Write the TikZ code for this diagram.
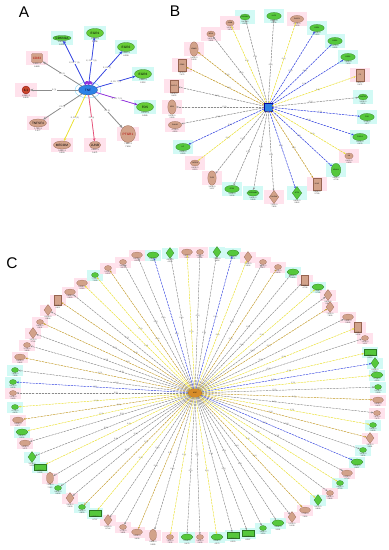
\documentclass[tikz,border=0pt]{standalone}
\usepackage{fontspec}
\setmainfont{Liberation Sans}
\usetikzlibrary{positioning,shapes.geometric,arrows.meta}

\definecolor{ngreen}{RGB}{85,200,60}
\definecolor{gdark}{RGB}{45,120,35}
\definecolor{ntan}{RGB}{210,162,138}
\definecolor{tdark}{RGB}{150,100,80}
\definecolor{nred}{RGB}{200,70,45}
\definecolor{bgcyan}{RGB}{210,250,245}
\definecolor{bgpink}{RGB}{255,226,236}
\definecolor{hblue}{RGB}{45,130,230}
\definecolor{hbrown}{RGB}{215,140,40}
\definecolor{egray}{RGB}{140,140,140}
\definecolor{eyellow}{RGB}{235,225,50}
\definecolor{eolive}{RGB}{195,155,40}
\definecolor{eblue}{RGB}{55,70,225}
\definecolor{eviolet}{RGB}{145,50,220}
\definecolor{epink}{RGB}{230,80,120}

\def\nsc{1}

\tikzset{
  nd/.style={inner sep=0pt, line width=0.2mm, font=\fontsize{5}{5}\selectfont},
  sg/.style={nd, ellipse, draw=gdark, fill=ngreen, minimum width=\nsc*12mm, minimum height=\nsc*6mm},
  sgt/.style={nd, ellipse, draw=gdark, fill=ngreen, minimum width=\nsc*8mm, minimum height=\nsc*11mm},
  gs/.style={nd, ellipse, draw=gdark, fill=ngreen, minimum width=\nsc*7mm, minimum height=\nsc*5mm},
  sgd/.style={nd, diamond, draw=gdark, fill=ngreen, minimum width=\nsc*8mm, minimum height=\nsc*11mm},
  sgr/.style={nd, rectangle, draw=gdark, fill=ngreen, minimum width=\nsc*12mm, minimum height=\nsc*6mm},
  st/.style={nd, ellipse, draw=tdark, fill=ntan, minimum width=\nsc*11mm, minimum height=\nsc*6mm},
  stt/.style={nd, ellipse, draw=tdark, fill=ntan, minimum width=\nsc*7mm, minimum height=\nsc*12mm},
  ts/.style={nd, ellipse, draw=tdark, fill=ntan, minimum width=\nsc*7mm, minimum height=\nsc*5mm},
  sd/.style={nd, diamond, draw=tdark, fill=ntan, minimum width=\nsc*8mm, minimum height=\nsc*11mm},
  sr/.style={nd, rectangle, draw=tdark, fill=ntan, minimum width=\nsc*7mm, minimum height=\nsc*10mm},
  bgc/.style={rectangle, fill=bgcyan, minimum width=\nsc*16mm, minimum height=\nsc*11mm, inner sep=0pt},
  bgp/.style={rectangle, fill=bgpink, minimum width=\nsc*16mm, minimum height=\nsc*11mm, inner sep=0pt},
  vals/.style={font=\fontsize{5.5}{5.9}\selectfont, align=center, inner sep=0.2mm, text=black!80},
  elab/.style={font=\fontsize{5}{5.4}\selectfont, text=black!70, inner sep=0.2mm},
  % dashed connectors (B, C)
  dsh/.style={line width=0.5mm, dash pattern=on 2mm off 1.2mm, -{Stealth[length=2.2mm, width=1.8mm]}},
  eg/.style={dsh, draw=egray, fill=egray},
  ey/.style={dsh, draw=eyellow, fill=eyellow},
  eo/.style={dsh, draw=eolive, fill=eolive},
  eb/.style={dsh, draw=eblue, fill=eblue},
  % solid connectors (A)
  sol/.style={line width=0.75mm, -{Stealth[length=3.2mm, width=2.6mm]}},
  aeb/.style={sol, draw=eblue, fill=eblue},
  aev/.style={sol, draw=eviolet, fill=eviolet},
  aeg/.style={sol, draw=egray, fill=egray},
  aey/.style={sol, draw=eyellow, fill=eyellow},
  aep/.style={sol, draw=epink, fill=epink},
  % panel A nodes
  an/.style={inner sep=0pt, line width=0.25mm, font=\fontsize{9}{9}\selectfont},
  agl/.style={an, ellipse, draw=gdark, fill=ngreen!90!yellow, minimum width=17mm, minimum height=9mm},
  ags/.style={an, ellipse, draw=gdark, fill=ngreen, minimum width=9mm, minimum height=5mm},
  atl/.style={an, ellipse, draw=tdark, fill=ntan, minimum width=16mm, minimum height=8mm},
  atall/.style={an, ellipse, draw=tdark, fill=ntan, minimum width=10mm, minimum height=17mm, text=red!70!black},
  atsm/.style={an, ellipse, draw=tdark, fill=ntan, minimum width=9mm, minimum height=7mm},
  ared/.style={an, circle, draw=red!50!black, fill=nred, minimum size=8mm},
  arect/.style={an, rectangle, rounded corners=1mm, draw=tdark, fill=ntan, minimum width=11mm, minimum height=9mm, text=red!70!black},
  panel/.style={font=\fontsize{44}{44}\selectfont}
}

\begin{document}
\begin{tikzpicture}[x=1mm, y=-1mm]
\useasboundingbox (0,0) rectangle (389,550);
\fill[white] (0,0) rectangle (389,550);

% Panel letters
\node[panel] (labA) at (24,12) {A};
\node[panel] (labB) at (175,11) {B};
\node[panel] (labC) at (12,263) {C};

% ---------------- A ----------------
\begin{scope}
\def\nsc{1.35}
\node[an, ellipse, draw=hblue!60!black, fill=hblue, minimum width=19mm, minimum height=10mm, text=blue!25!black] (hA) at (88,90) {TNF};
\draw[cyan!50, line width=0.35mm] (hA.center) ellipse [x radius=13mm, y radius=8mm];
\foreach \x/\y/\b/\s/\n/\e/\t [count=\i] in {
    62/38/bgc/ags/CDKN1A/aeb/{E, PR, T (3)},
    95/33/bgc/agl/EGR1/aeb/{E, PR, T (3)},
    126/47/bgc/agl/EGR2/aeb/{E, PR (2)},
    143/74/bgc/agl/EGR3/aeb/{E, PR, T (3)},
    145/107/bgc/agl/FOS/aev/{E, PR, T (3)},
    128/134/bgp/atall/PTGR1/aeg/{PR (1)},
    95/145/bgp/atsm/JUNB/aep/{PR (1)},
    62/145/bgp/atl/MECOM/aey/{E, PR (2)},
    38/123/bgp/atl/TNFSF4/aeg/{PR (1)},
    26/90/bgp/ared/IL1/aeg/{E (1)},
    37/58/bgp/arect/CD83/aeg/{PR (1)}}{
  \node[\b] at (\x,\y) {};
  \node[\s] (a\i) at (\x,\y) {\n};
  \pgfmathtruncatemacro\pa{mod(\i*7,9)+1}
  \pgfmathtruncatemacro\pb{mod(\i*37,89)+10}
  \pgfmathtruncatemacro\pc{mod(\i*53,897)+100}
  \node[vals, font=\fontsize{6}{6.5}\selectfont, below=0.4mm of a\i] {\pa.\pb E-3\\\pa.\pc};
  \draw[\e] (hA) -- (a\i) node[elab, font=\fontsize{5.5}{6}\selectfont, pos=0.5, fill=white] {\t};
}
% self loops
\draw[aev] (hA.120) to[out=110, in=70, looseness=5] (hA.95);
\draw[aev] (hA.85) to[out=110, in=70, looseness=5] (hA.60);
\end{scope}

% ---------------- B ----------------
\begin{scope}
\def\nsc{1.2}
\def\blist{245/17/gs/bgc/eg/CDKN1A, 274/16/sg/bgc/eg/KLF2, 297/19/st/bgp/ey/DUSP1,
  317/28/sg/bgc/eb/EGR1, 335/41/sg/bgc/eb/EGR2, 348/57/sg/bgc/eb/EGR3,
  360/75/sr/bgp/ey/F3, 363/97/gs/bgc/eg/SH3TC2, 367/117/sg/bgc/eb/FOS,
  360/137/sg/bgc/eb/FOSL2, 349/156/ts/bgp/ey/IL6, 336/170/sgt/bgc/eb/NR4A1,
  317/184/sr/bgp/eo/LDLR, 297/193/sgd/bgc/eb/ATF3, 274/197/sd/bgp/eg/PHLDA1,
  253/193/gs/bgc/eg/SERPINB2, 232/189/sg/bgc/eg/ETS2, 212/178/stt/bgp/eg/TLR2,
  195/163/ts/bgp/ey/TNFSF4, 183/147/sg/bgc/eb/LIF, 175/125/st/bgp/eg/PLAUR,
  172/107/stt/bgp/eg/IER3, 174/86/sr/bgp/eg/CXCL2, 182/65/sr/bgp/eo/CD83,
  194/49/stt/bgp/eo/ICAM1, 211/34/ts/bgp/eg/BCL3, 230/23/ts/bgp/ey/JUNB}
\node[nd, rectangle, draw=blue!60!black, fill=hblue, minimum size=8mm] (hB) at (268,107) {};
\foreach \x/\y/\s/\b/\e/\n in \blist {
  \node[\b] at (\x,\y) {};
}
\foreach \x/\y/\s/\b/\e/\n [count=\i] in \blist {
  \node[\s] (b\i) at (\x,\y) {\n};
  \pgfmathtruncatemacro\pa{mod(\i*7,9)+1}
  \pgfmathtruncatemacro\pb{mod(\i*37,89)+10}
  \pgfmathtruncatemacro\pc{mod(\i*53,897)+100}
  \node[vals, below=0.3mm of b\i] {\pa.\pb E-3\\\pa.\pc};
  \pgfmathsetmacro\lp{0.45+0.1*mod(\i,2)}
  \draw[\e] (hB) -- (b\i) node[elab, pos=\lp] {E (1)};
}
\end{scope}

% ---------------- C ----------------
\def\clist{137/255/st/bgp/eg, 153/255/sg/bgc/eb, 170/253/sgd/bgc/eg, 187/252/st/bgp/ey,
  200/252/ts/bgp/eg, 217/252/sgd/bgc/eg, 233/253/sg/bgc/eb, 248/257/sd/bgp/ey,
  263/262/ts/bgp/eg, 278/267/ts/bgp/eo, 293/272/sg/bgc/eg, 305/280/sr/bgp/eg,
  318/287/sg/bgc/ey, 328/295/sd/bgp/eg, 330/307/sd/bgp/eo, 348/317/st/bgp/eg,
  358/327/sr/bgp/ey, 365/338/ts/bgp/eg, 370/352/sgr/bgc/ey, 375/363/sgd/bgc/eb,
  377/375/sg/bgc/ey, 378/387/gs/bgc/eg, 378/400/st/bgp/eo, 377/413/ts/bgp/eg,
  373/425/gs/bgc/ey, 370/438/sd/bgp/eo, 363/450/gs/bgc/eg, 357/462/sg/bgc/eb,
  347/473/st/bgp/eg, 340/483/gs/bgc/ey, 330/493/ts/bgp/eg, 318/500/sgd/bgc/ey,
  305/510/st/bgp/eo, 292/517/sd/bgp/eg, 278/523/sg/bgc/eg, 263/528/gs/bgc/eg,
  248/533/sgr/bgc/eg, 233/535/sgr/bgc/eg, 217/537/sg/bgc/ey, 200/537/ts/bgp/eg,
  187/537/sg/bgc/eg, 170/537/ts/bgp/ey, 153/535/stt/bgp/eg, 137/532/st/bgp/eo,
  123/527/ts/bgp/eg, 108/520/sd/bgp/eg, 95/513/sgr/bgc/ey, 82/507/gs/bgc/eo,
  70/498/sd/bgp/eg, 58/488/gs/bgc/eg, 50/478/stt/bgp/eg, 40/467/sgr/bgc/ey,
  32/457/sgd/bgc/eg, 25/443/st/bgp/eg, 22/432/sg/bgc/ey, 18/420/st/bgp/eo,
  15/407/gs/bgc/ey, 13/393/ts/bgp/eg, 13/382/gs/bgc/eb, 15/370/gs/bgc/eg,
  20/357/st/bgp/eo, 27/345/ts/bgp/eg, 33/333/sd/bgp/eg, 40/322/ts/bgp/eo,
  48/310/sd/bgp/eg, 58/300/sr/bgp/eo, 70/292/st/bgp/eg, 82/283/st/bgp/ey,
  95/275/gs/bgc/ey, 108/268/ts/bgp/eo, 123/262/ts/bgp/eg}
\node[nd, ellipse, draw=brown!70!black, fill=hbrown, minimum width=14mm, minimum height=9mm] (hC) at (195,393) {MYC};
\foreach \x/\y/\s/\b/\e in \clist {
  \node[\b] at (\x,\y) {};
}
\draw[epink!60, line width=0.25mm, dashed] (hC.center) ellipse [x radius=11mm, y radius=8mm];
\draw[egray!70, line width=0.25mm, dashed] (hC.center) ellipse [x radius=15mm, y radius=11mm];
\foreach \x/\y/\s/\b/\e [count=\i] in \clist {
  \node[\s] (c\i) at (\x,\y) {};
  \pgfmathtruncatemacro\pa{mod(\i*7,9)+1}
  \pgfmathtruncatemacro\pb{mod(\i*37,89)+10}
  \pgfmathtruncatemacro\pc{mod(\i*53,897)+100}
  \node[vals, below=0.2mm of c\i] {\pa.\pb E-3\\\pa.\pc};
  \pgfmathsetmacro\lp{0.42+0.12*mod(\i,2)}
  \draw[\e, line width=0.42mm] (hC) -- (c\i) node[elab, pos=\lp] {E (1)};
}

\end{tikzpicture}
\end{document}
